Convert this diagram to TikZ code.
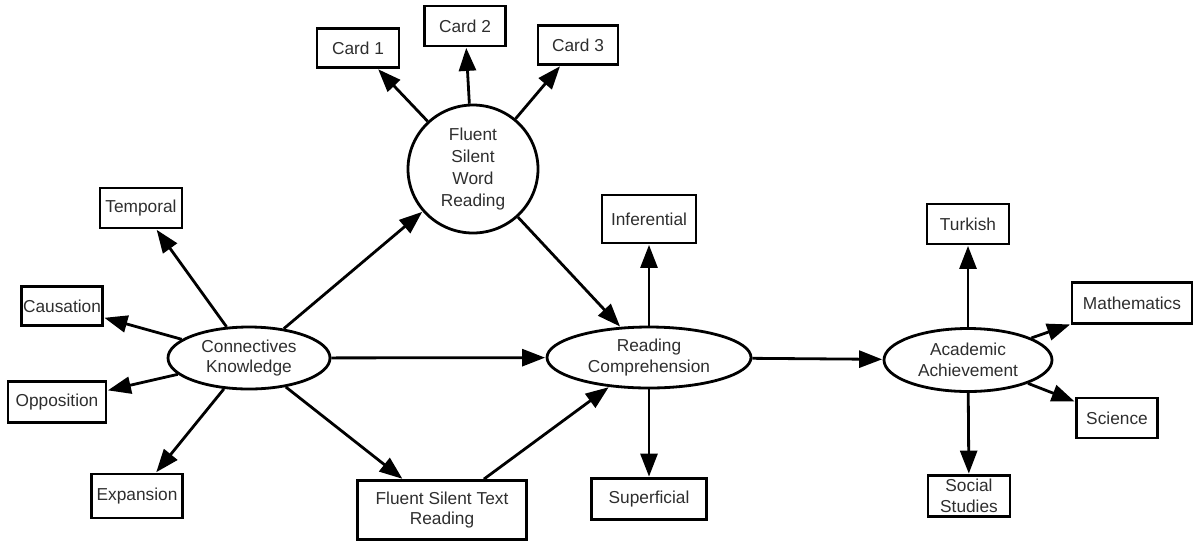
\documentclass[tikz,border=0pt]{standalone}
\usepackage{fontspec}
\setmainfont{Liberation Sans}
\usetikzlibrary{shapes.geometric,arrows.meta}
\tikzset{
  lbl/.style={font=\fontsize{17.3}{20.5}\selectfont, text=black!82, align=center, inner sep=0pt},
  boxnode/.style={lbl, draw, line width=2.8pt, rectangle},
  ovalnode/.style={lbl, draw, line width=2.8pt, ellipse},
  link/.style={line width=2.8pt, -{Triangle[length=23pt,width=17pt]}, shorten >=0.5pt},
}
\begin{document}
\begin{tikzpicture}[x=1pt,y=-1pt]
\useasboundingbox (0,0) rectangle (1194,542);
% ovals
\node[ovalnode, minimum width=162pt, minimum height=62pt] (ck) at (249,358) {Connectives\\Knowledge};
\node[ovalnode, minimum width=130pt, minimum height=128pt] (fswr) at (473,169) {Fluent\\[1.2pt]Silent\\[1.2pt]Word\\[1.2pt]Reading};
\node[ovalnode, minimum width=204pt, minimum height=61pt] (rc) at (649,357.5) {Reading\\Comprehension};
\node[ovalnode, minimum width=168pt, minimum height=63pt] (aa) at (968,360) {Academic\\Achievement};
% boxes
\node[boxnode, minimum width=82pt, minimum height=40pt] (temp) at (141,208) {Temporal};
\node[boxnode, minimum width=81pt, minimum height=39pt] (caus) at (62,306) {Causation};
\node[boxnode, minimum width=98pt, minimum height=41pt] (opp) at (57,402) {Opposition};
\node[boxnode, minimum width=91pt, minimum height=44pt] (exp) at (137,496) {Expansion};
\node[boxnode, minimum width=82pt, minimum height=39pt] (c1) at (358,48) {Card 1};
\node[boxnode, minimum width=81pt, minimum height=40pt] (c2) at (465,26) {Card 2};
\node[boxnode, minimum width=80pt, minimum height=39pt] (c3) at (578,45) {Card 3};
\node[boxnode, minimum width=94pt, minimum height=48pt] (inf) at (649,219) {Inferential};
\node[boxnode, minimum width=115pt, minimum height=41pt] (sup) at (649,499) {Superficial};
\node[boxnode, minimum width=169pt, minimum height=59pt] (fstr) at (442,510) {Fluent Silent Text\\Reading};
\node[boxnode, minimum width=82pt, minimum height=40pt] (tur) at (968,224) {Turkish};
\node[boxnode, minimum width=120pt, minimum height=41pt] (math) at (1132,303) {Mathematics};
\node[boxnode, minimum width=81pt, minimum height=40pt] (sci) at (1117,418) {Science};
\node[boxnode, minimum width=82pt, minimum height=41pt, font=\fontsize{17.3}{21}\selectfont] (soc) at (969,496) {Social\\Studies};
% connectors
\draw[link] (ck) -- (temp);
\draw[link] (ck) -- (caus);
\draw[link] (ck) -- (opp);
\draw[link] (ck) -- (exp);
\draw[link] (ck) -- (fswr);
\draw[link] (ck) -- (rc);
\draw[link] (ck) -- (fstr);
\draw[link] (fswr) -- (c1);
\draw[link] (fswr) -- (c2);
\draw[link] (fswr) -- (c3);
\draw[link] (fswr) -- (rc);
\draw[link] (fstr) -- (rc);
\draw[link] (rc) -- (inf);
\draw[link] (rc) -- (sup);
\draw[link] (rc) -- (aa);
\draw[link] (aa) -- (tur);
\draw[link] (aa) -- (math);
\draw[link] (aa) -- (sci);
\draw[link] (aa) -- (soc);
\end{tikzpicture}
\end{document}
